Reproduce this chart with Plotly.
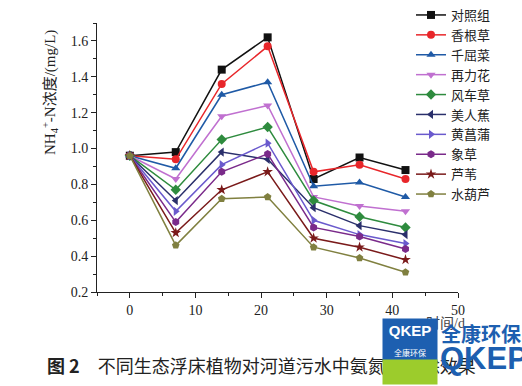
import plotly.graph_objects as go

days = [0, 7, 14, 21, 28, 35, 42]
names = ["对照组", "香根草", "千屈菜", "再力花", "风车草", "美人蕉", "黄菖蒲", "象草", "芦苇", "水葫芦"]
v_control = [0.96, 0.98, 1.44, 1.62, 0.83, 0.95, 0.88]
v_xianggen = [0.96, 0.94, 1.36, 1.57, 0.87, 0.91, 0.83]
v_qianqu = [0.96, 0.89, 1.30, 1.37, 0.79, 0.81, 0.73]
v_zaili = [0.96, 0.83, 1.18, 1.24, 0.73, 0.68, 0.65]
v_fengche = [0.96, 0.77, 1.05, 1.12, 0.71, 0.62, 0.56]
v_meiren = [0.96, 0.71, 0.98, 0.94, 0.67, 0.57, 0.52]
v_huangchang = [0.96, 0.65, 0.91, 1.03, 0.60, 0.52, 0.47]
v_xiang = [0.96, 0.59, 0.87, 0.97, 0.56, 0.51, 0.44]
v_luwei = [0.96, 0.53, 0.77, 0.87, 0.50, 0.45, 0.38]
v_shuihulu = [0.96, 0.46, 0.72, 0.73, 0.45, 0.39, 0.31]
series = [v_control, v_xianggen, v_qianqu, v_zaili, v_fengche, v_meiren,
          v_huangchang, v_xiang, v_luwei, v_shuihulu]

colors = ["#111111", "#e8262a", "#1f5aa6", "#c070d0", "#2e8b3e", "#2a2f6b",
          "#6a5acd", "#7a2a8a", "#7a1a1a", "#808040"]
symbols = ["square", "circle", "triangle-up", "triangle-down", "diamond",
           "triangle-left", "triangle-right", "hexagon", "star", "pentagon"]

fig = go.Figure()
for n, v, c, s in zip(names, series, colors, symbols):
    fig.add_trace(go.Scatter(x=days, y=v, name=n, mode="lines+markers",
                             line=dict(color=c, width=1.5),
                             marker=dict(symbol=s, size=8, color=c)))

L, R, T, B = 97, 458, 23, 292
W, H = 522, 386
def px(p):
    return (p - L) / (R - L)
def py(p):
    return (B - p) / (B - T)

serif = "Liberation Serif, Noto Sans CJK SC"
axis_common = dict(showline=True, linecolor="#222", linewidth=1, ticks="outside",
                   ticklen=5, tickcolor="#222", showgrid=False, zeroline=False,
                   tickfont=dict(family="Liberation Serif", size=14, color="#222"))
fig.update_xaxes(range=[-5, 50], dtick=10, tick0=0,
                 minor=dict(dtick=5, tick0=0, ticks="outside", ticklen=3, tickcolor="#222"),
                 **axis_common)
fig.update_yaxes(range=[0.2, 1.7], dtick=0.2, tick0=0.2, tickformat=".1f",
                 minor=dict(dtick=0.1, tick0=0.2, ticks="outside", ticklen=3, tickcolor="#222"),
                 **axis_common)

fig.update_layout(
    width=W, height=H,
    margin=dict(l=L, r=W - R, t=T, b=H - B, autoexpand=False),
    paper_bgcolor="white", plot_bgcolor="white",
    legend=dict(x=px(411), y=py(0), xanchor="left", yanchor="top",
                maxheight=380,
                font=dict(family="Noto Sans CJK SC", size=13, color="#222"),
                tracegroupgap=0, itemwidth=30, bgcolor="rgba(0,0,0,0)"),
)

ann = []
# y-axis title
ann.append(dict(x=px(50), y=py(93), xref="paper", yref="paper", xanchor="center", yanchor="middle",
                text="NH<sub>4</sub><sup>+</sup>-N浓度/(mg/L)", textangle=-90,
                showarrow=False, font=dict(family=serif, size=15, color="#222")))
# x-axis title
ann.append(dict(x=px(445), y=py(323), xref="paper", yref="paper", xanchor="center", yanchor="middle",
                text="时间/d", showarrow=False, font=dict(family=serif, size=14, color="#444")))
# caption
ann.append(dict(x=px(45), y=py(365), xref="paper", yref="paper", xanchor="left", yanchor="middle",
                text="<b>图 2</b>　不同生态浮床植物对河道污水中氨氮的去除效果",
                showarrow=False, font=dict(family="Noto Sans CJK SC", size=18, color="#222")))
# watermark logo
ann.append(dict(x=px(382), y=py(318), xref="paper", yref="paper", xanchor="left", yanchor="top",
                width=52, height=40, bgcolor="#1d5fb0", borderpad=1, valign="middle",
                text="<b>QKEP</b><br><span style='font-size:8px'>全康环保</span>",
                showarrow=False, font=dict(family="Liberation Sans, Noto Sans CJK SC", size=15, color="white")))
ann.append(dict(x=px(382), y=py(359), xref="paper", yref="paper", xanchor="left", yanchor="top",
                width=52, height=22, bgcolor="#9ccc2c", borderpad=1, text=" ",
                showarrow=False, font=dict(size=10)))
ann.append(dict(x=px(439), y=py(333), xref="paper", yref="paper", xanchor="left", yanchor="middle",
                text="<b>全康环保</b>", showarrow=False,
                font=dict(family="Noto Sans CJK SC", size=20, color="#1d5fb0")))
ann.append(dict(x=px(438), y=py(358), xref="paper", yref="paper", xanchor="left", yanchor="middle",
                text="<b>QKEP</b>", showarrow=False,
                font=dict(family="Liberation Sans", size=31, color="#1d5fb0")))
fig.update_layout(annotations=ann)

fig.write_html("out.html")
